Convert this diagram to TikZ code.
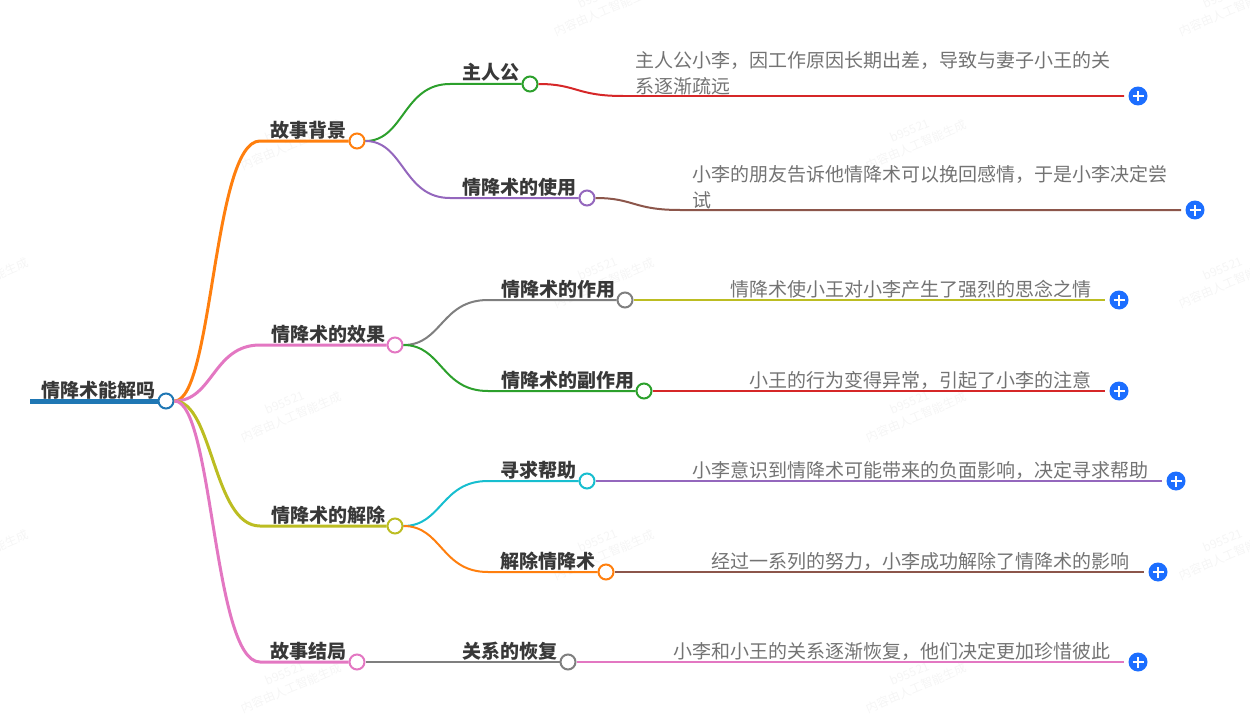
\documentclass[tikz,border=0pt]{standalone}
\usepackage{fontspec}
\setmainfont{Noto Sans CJK SC}
\usetikzlibrary{calc}

\definecolor{cBlue}{HTML}{1F77B4}
\definecolor{cOrange}{HTML}{FF7F0E}
\definecolor{cGreen}{HTML}{2CA02C}
\definecolor{cRed}{HTML}{D62728}
\definecolor{cPurple}{HTML}{9467BD}
\definecolor{cBrown}{HTML}{8C564B}
\definecolor{cPink}{HTML}{E377C2}
\definecolor{cGray}{HTML}{7F7F7F}
\definecolor{cOlive}{HTML}{BCBD22}
\definecolor{cCyan}{HTML}{17BECF}
\definecolor{cPlus}{HTML}{1C6EFF}

\tikzset{
	dot/.style={circle,draw=#1,fill=white,line width=0.04cm,minimum size=0.3cm,inner sep=0pt},
	plusbtn/.style={circle,fill=cPlus,minimum size=0.38cm,inner sep=0pt,
		path picture={\draw[white,line width=0.035cm]
			(path picture bounding box.center) ++(-0.11cm,0) -- ++(0.22cm,0)
			(path picture bounding box.center) ++(0,-0.11cm) -- ++(0,0.22cm);}},
	headtext/.style={anchor=base west,inner sep=0pt,text=black!78,font=\fontsize{10.81pt}{14.23pt}\selectfont\bfseries},
	leaftext/.style={anchor=base west,inner sep=0pt,text=black!55,align=left,font=\fontsize{10.81pt}{14.23pt}\selectfont},
	marktext/.style={rotate=23,inner sep=0pt,align=center,text=black!4,font=\fontsize{6.8pt}{9pt}\selectfont},
}

\begin{document}
\begin{tikzpicture}[x=0.02cm,y=-0.02cm]

	\useasboundingbox (0,0) rectangle (1250,713);

	% ---- background marks

	\foreach \i/\x/\y in {1/288/138,2/288/410,3/288/681,4/913/138,5/913/410,6/913/681,
		7/601/4,8/601/276,9/601/548,10/1226/4,11/1226/276,12/1226/548,13/-25/276,14/-25/548}
	{ \node[marktext] (mark\i) at (\x,\y) {b95521\\内容由人工智能生成}; }

	% ---- circles

	\node[dot=cBlue] (root) at (166,401) {};
	\foreach \n/\x/\y/\c in {A/357/141/cOrange,B/395/345/cPink,C/395/526/cOlive,D/357/662/cPink,
		A1/530/84/cGreen,A2/587/198/cPurple,B1/625/300/cGray,B2/644/391/cGreen,
		C1/587/481/cCyan,C2/606/572/cOrange,D1/568/662/cGray}
	{ \node[dot=\c] (\n) at (\x,\y) {}; }

	% ---- plus buttons

	\foreach \n/\x/\y in {A1/1138/96,A2/1195/210,B1/1119/300,B2/1119/391,
		C1/1176/481,C2/1158/572,D1/1138/662}
	{ \node[plusbtn] (plus\n) at (\x,\y) {}; }

	% ---- first level

	\coordinate (start) at (30,401);
	\draw[cBlue,line width=0.1cm] (start) -- (root);
	\foreach \n/\x/\y/\c in {A/260/141/cOrange,B/260/345/cPink,C/260/526/cOlive,D/260/662/cPink}
	{
		\coordinate (knot\n) at (\x,\y);
		\draw[\c,line width=0.06cm] (root) .. controls +(47,0) and +(-47,0) .. (knot\n) -- (\n);
	}

	% ---- second level

	\foreach \p/\n/\x/\y/\c in {A/A1/450/84/cGreen,A/A2/450/198/cPurple,B/B1/488/300/cGray,B/B2/488/391/cGreen,
		C/C1/488/481/cCyan,C/C2/488/572/cOrange,D/D1/450/662/cGray}
	{
		\coordinate (knot\n) at (\x,\y);
		\draw[\c,line width=0.04cm] (\p) .. controls +(47,0) and +(-47,0) .. (knot\n) -- (\n);
	}

	% ---- third level

	\foreach \n/\x/\y/\c in {A1/623/96/cRed,A2/680/210/cBrown,B1/718/300/cOlive,B2/737/391/cRed,
		C1/680/481/cPurple,C2/699/572/cBrown,D1/661/662/cPink}
	{
		\coordinate (end\n) at (\x,\y);
		\draw[\c,line width=0.04cm,shorten >=0.08cm] (\n) .. controls +(47,0) and +(-47,0) .. (end\n) -- (plus\n);
	}

	% ---- labels

	\node[headtext] (rootText) at (41,397) {情降术能解吗};
	\node[headtext] (AText) at (270,137) {故事背景};
	\node[headtext] (BText) at (271,341) {情降术的效果};
	\node[headtext] (CText) at (271,522) {情降术的解除};
	\node[headtext] (DText) at (270,658) {故事结局};
	\node[headtext] (A1Text) at (462,80) {主人公};
	\node[headtext] (A2Text) at (462,194) {情降术的使用};
	\node[headtext] (B1Text) at (501,296) {情降术的作用};
	\node[headtext] (B2Text) at (501,387) {情降术的副作用};
	\node[headtext] (C1Text) at (500,477) {寻求帮助};
	\node[headtext] (C2Text) at (500,568) {解除情降术};
	\node[headtext] (D1Text) at (462,658) {关系的恢复};

	\node[leaftext] (A1Leaf) at (635,93) {主人公小李，因工作原因长期出差，导致与妻子小王的关\\系逐渐疏远};
	\node[leaftext] (A2Leaf) at (692,207) {小李的朋友告诉他情降术可以挽回感情，于是小李决定尝\\试};
	\node[leaftext] (B1Leaf) at (730,296) {情降术使小王对小李产生了强烈的思念之情};
	\node[leaftext] (B2Leaf) at (749,387) {小王的行为变得异常，引起了小李的注意};
	\node[leaftext] (C1Leaf) at (692,477) {小李意识到情降术可能带来的负面影响，决定寻求帮助};
	\node[leaftext] (C2Leaf) at (711,568) {经过一系列的努力，小李成功解除了情降术的影响};
	\node[leaftext] (D1Leaf) at (673,658) {小李和小王的关系逐渐恢复，他们决定更加珍惜彼此};

\end{tikzpicture}
\end{document}
